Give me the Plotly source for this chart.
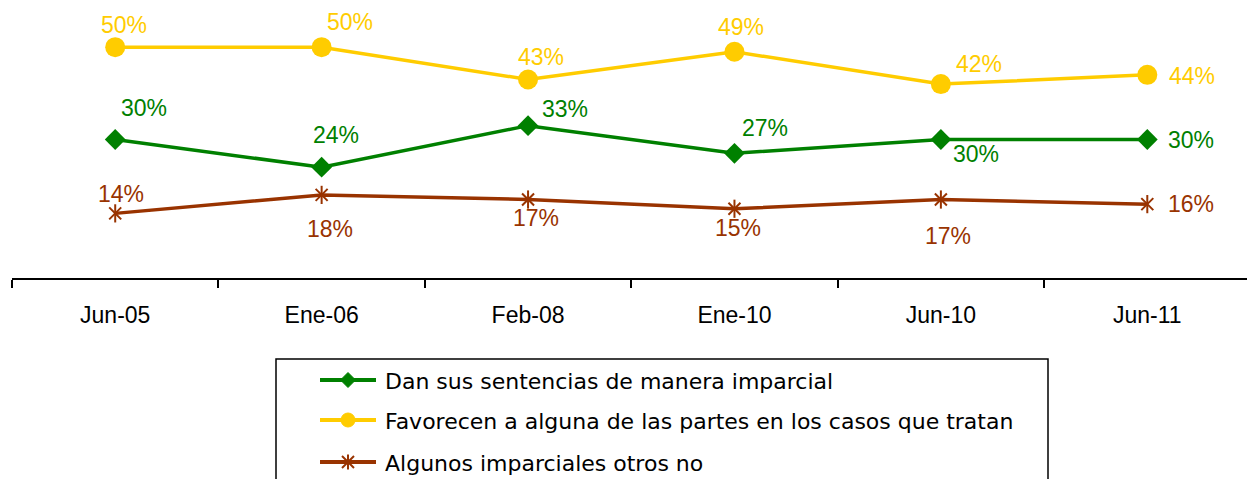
import plotly.graph_objects as go

# Survey periods and shares (%) for each answer
periods = ["Jun-05", "Ene-06", "Feb-08", "Ene-10", "Jun-10", "Jun-11"]
imparcial = [30, 24, 33, 27, 30, 30]
favorecen = [50, 50, 43, 49, 42, 44]
algunos = [14, 18, 17, 15, 17, 16]

names = [
    "Dan sus sentencias de manera imparcial",
    "Favorecen a alguna de las partes en los casos que tratan",
    "Algunos imparciales otros no",
]

GREEN = "#008000"
YELLOW = "#FFCC00"
BROWN = "#993300"
FONT = "Arial, Liberation Sans, sans-serif"
LEGEND_FONT = "DejaVu Sans, Arial, sans-serif"

W, H = 1247, 479
ML, MR, MT, MB = 12, 0, 1, 201
PW, PH = W - ML - MR, H - MT - MB

# Pixel offsets (dx right, dy down) for each value label
off_imparcial = [(29, -32), (14, -32), (37, -17), (31, -25), (35, 14), (44, 0)]
off_favorecen = [(9, -22), (28, -25), (13, -22), (7, -25), (38, -20), (45, 1)]
off_algunos = [(6, -19), (8, 34), (8, 18), (4, 19), (7, 36), (44, 0)]

LINE_W = 3.5

fig = go.Figure()

fig.add_trace(go.Scatter(
    x=periods, y=imparcial, name=names[0], mode="lines+markers",
    line=dict(color=GREEN, width=LINE_W),
    marker=dict(symbol="diamond", size=16, color=GREEN),
))
fig.add_trace(go.Scatter(
    x=periods, y=favorecen, name=names[1], mode="lines+markers",
    line=dict(color=YELLOW, width=LINE_W),
    marker=dict(symbol="circle", size=20, color=YELLOW),
))
fig.add_trace(go.Scatter(
    x=periods, y=algunos, name=names[2], mode="lines+markers",
    line=dict(color=BROWN, width=LINE_W),
    marker=dict(symbol="x-thin-open", size=12, color=BROWN,
                line=dict(color=BROWN, width=2)),
))
# vertical stroke that completes the star marker
fig.add_trace(go.Scatter(
    x=periods, y=algunos, mode="markers", hoverinfo="skip",
    marker=dict(symbol="line-ns-open", size=13, color=BROWN,
                line=dict(color=BROWN, width=2)),
))

annotations = []
for vals, offs, color in ((imparcial, off_imparcial, GREEN),
                          (favorecen, off_favorecen, YELLOW),
                          (algunos, off_algunos, BROWN)):
    for p, v, (dx, dy) in zip(periods, vals, offs):
        annotations.append(dict(
            x=p, y=v, text=f"{v}%", showarrow=False,
            xshift=dx, yshift=-dy,
            font=dict(family=FONT, size=23, color=color),
        ))


# ---- legend box drawn in page pixels, converted to paper coordinates ----
def px(x):
    return (x - ML) / PW


def py(y):
    return (H - MB - y) / PH


shapes = [dict(
    type="rect", xref="paper", yref="paper",
    x0=px(276), x1=px(1048), y0=py(359), y1=py(492),
    line=dict(color="black", width=1.5), fillcolor="white", layer="above",
)]

key_x0, key_x1, key_c, text_x = 320, 376, 348, 383
rows = [380, 420, 462]
colors = [GREEN, YELLOW, BROWN]

for name, color, ry in zip(names, colors, rows):
    shapes.append(dict(
        type="line", xref="paper", yref="paper",
        x0=px(key_x0), x1=px(key_x1), y0=py(ry), y1=py(ry),
        line=dict(color=color, width=4), layer="above",
    ))
    annotations.append(dict(
        xref="paper", yref="paper", x=px(text_x), y=py(ry + 1),
        xanchor="left", yanchor="middle", showarrow=False, text=name,
        font=dict(family=LEGEND_FONT, size=22, color="black"),
    ))

# diamond key
r = 7.5
yc = rows[0]
shapes.append(dict(
    type="path", xref="paper", yref="paper", layer="above",
    path=(f"M {px(key_c - r)},{py(yc)} L {px(key_c)},{py(yc - r)} "
          f"L {px(key_c + r)},{py(yc)} L {px(key_c)},{py(yc + r)} Z"),
    fillcolor=GREEN, line=dict(color=GREEN, width=1),
))
# circle key
r = 7
yc = rows[1]
shapes.append(dict(
    type="circle", xref="paper", yref="paper", layer="above",
    x0=px(key_c - r), x1=px(key_c + r), y0=py(yc + r), y1=py(yc - r),
    fillcolor=YELLOW, line=dict(color=YELLOW, width=1),
))
# star key
r = 6
yc = rows[2]
for (ax, ay, bx, by) in ((-r, -r, r, r), (-r, r, r, -r), (0, -r - 1.5, 0, r + 1.5)):
    shapes.append(dict(
        type="line", xref="paper", yref="paper", layer="above",
        x0=px(key_c + ax), x1=px(key_c + bx),
        y0=py(yc + ay), y1=py(yc + by),
        line=dict(color=BROWN, width=2),
    ))

fig.update_layout(
    width=W, height=H,
    margin=dict(l=ML, r=MR, t=MT, b=MB),
    paper_bgcolor="white", plot_bgcolor="white",
    font=dict(family=FONT, size=20, color="black"),
    annotations=annotations,
    shapes=shapes,
    showlegend=False,
    xaxis=dict(
        type="category", range=[-0.5, 5.483],
        showline=True, linecolor="black", linewidth=1.5,
        ticks="outside", tickson="boundaries", ticklen=8,
        tickcolor="black", tickwidth=1.5,
        showgrid=False, zeroline=False,
        tickfont=dict(family=FONT, size=23, color="black"),
        ticklabelstandoff=16,
        fixedrange=True,
    ),
    yaxis=dict(
        range=[0, 60], visible=False, showgrid=False, zeroline=False,
        fixedrange=True,
    ),
)

fig.write_html("out.html")
